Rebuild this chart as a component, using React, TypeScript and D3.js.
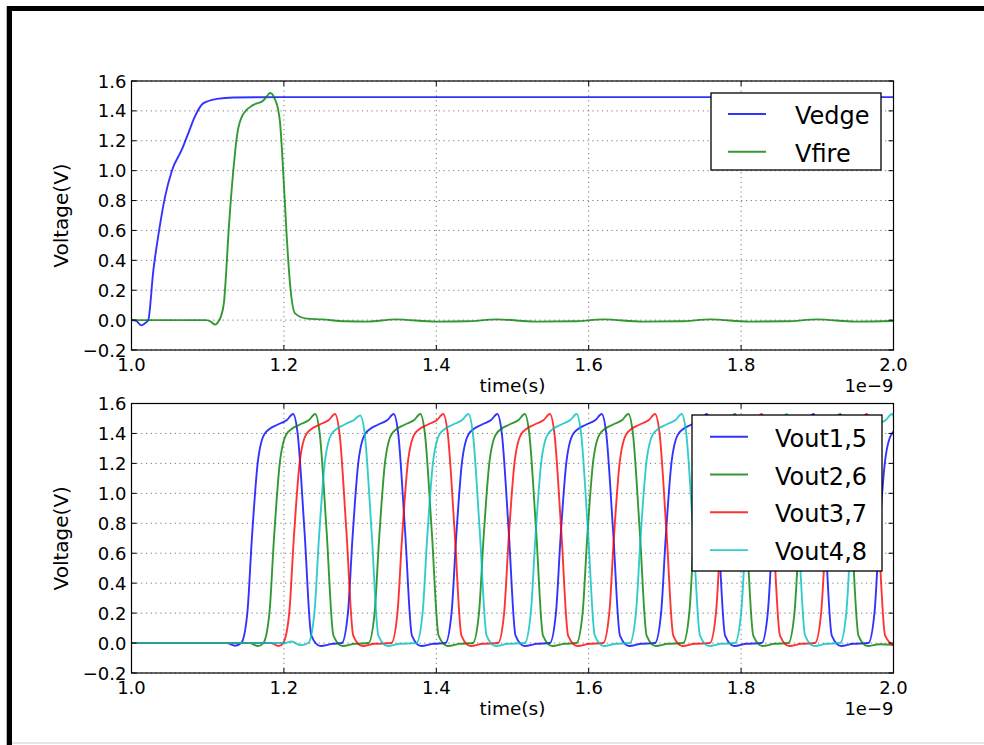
import React from "react";
import * as d3 from "d3";

// ---------- data (time in ns, voltage in V) ----------
const timeTicks = [1.0, 1.2, 1.4, 1.6, 1.8, 2.0];
const voltTicks = [-0.2, 0.0, 0.2, 0.4, 0.6, 0.8, 1.0, 1.2, 1.4, 1.6];

const vedge: [number, number][] = [
  [1.0, 0], [1.006, -0.005], [1.013, -0.035], [1.018, -0.02], [1.022, 0.0], [1.0286, 0.33],
  [1.035, 0.56], [1.044, 0.825], [1.053, 1.0], [1.066, 1.14], [1.0745, 1.25], [1.083, 1.36],
  [1.094, 1.45], [1.112, 1.48], [1.134, 1.49], [1.2, 1.492], [2.0, 1.492],
];

const vfire: [number, number][] = [
  [1.0, 0], [1.098, 0], [1.104, -0.01], [1.1096, -0.03], [1.114, -0.01], [1.117, 0.02],
  [1.1214, 0.12], [1.124, 0.3], [1.127, 0.56], [1.1336, 1.0], [1.1389, 1.25], [1.1468, 1.38],
  [1.16, 1.44], [1.173, 1.47], [1.178, 1.5], [1.1818, 1.52], [1.185, 1.51], [1.188, 1.48],
  [1.192, 1.42], [1.195, 1.32], [1.199, 1.0], [1.2037, 0.56], [1.208, 0.245], [1.2146, 0.045],
  [1.23, 0.01], [1.25, 0.005], [1.28, -0.008], [1.31, -0.01], [1.346, 0.005], [1.4, -0.01],
  [1.44, -0.008], [1.48, 0.005], [1.53, -0.01], [1.58, -0.008], [1.62, 0.005], [1.67, -0.01],
  [1.72, -0.008], [1.76, 0.005], [1.81, -0.01], [1.86, -0.008], [1.9, 0.005], [1.95, -0.01],
  [2.0, -0.006],
];

const vout15: [number, number][] = [
  [1.0, 0], [1.125, 0], [1.136, -0.018],
  [1.144, 0], [1.152, 0.2], [1.158, 0.7], [1.166, 1.22], [1.175, 1.4], [1.192, 1.46], [1.204, 1.49], [1.212, 1.53], [1.218, 1.4], [1.227, 0.75], [1.236, 0.05], [1.248, -0.02], [1.264, -0.005],
  [1.276, 0], [1.284, 0.2], [1.29, 0.7], [1.298, 1.22], [1.307, 1.4], [1.324, 1.46], [1.336, 1.49], [1.344, 1.53], [1.35, 1.4], [1.359, 0.75], [1.368, 0.05], [1.38, -0.02], [1.396, -0.005],
  [1.412, 0], [1.42, 0.2], [1.426, 0.7], [1.434, 1.22], [1.443, 1.4], [1.46, 1.46], [1.472, 1.49], [1.48, 1.53], [1.486, 1.4], [1.495, 0.75], [1.504, 0.05], [1.516, -0.02], [1.532, -0.005],
  [1.549, 0], [1.557, 0.2], [1.563, 0.7], [1.571, 1.22], [1.58, 1.4], [1.597, 1.46], [1.609, 1.49], [1.617, 1.53], [1.623, 1.4], [1.632, 0.75], [1.641, 0.05], [1.653, -0.02], [1.669, -0.005],
  [1.687, 0], [1.695, 0.2], [1.701, 0.7], [1.709, 1.22], [1.718, 1.4], [1.735, 1.46], [1.747, 1.49], [1.755, 1.53], [1.761, 1.4], [1.77, 0.75], [1.779, 0.05], [1.791, -0.02], [1.807, -0.005],
  [1.827, 0], [1.835, 0.2], [1.841, 0.7], [1.849, 1.22], [1.858, 1.4], [1.875, 1.46], [1.887, 1.49], [1.895, 1.53], [1.901, 1.4], [1.91, 0.75], [1.919, 0.05], [1.931, -0.02], [1.947, -0.005],
  [1.967, 0], [1.975, 0.2], [1.981, 0.7], [1.989, 1.22], [1.998, 1.4], [2.015, 1.46],
];

const vout26: [number, number][] = [
  [1.0, 0], [1.155, 0], [1.166, -0.02],
  [1.173, 0], [1.181, 0.2], [1.187, 0.7], [1.195, 1.22], [1.204, 1.4], [1.221, 1.46], [1.233, 1.49], [1.241, 1.53], [1.247, 1.4], [1.256, 0.75], [1.265, 0.05], [1.277, -0.02], [1.293, -0.005],
  [1.311, 0], [1.319, 0.2], [1.325, 0.7], [1.333, 1.22], [1.342, 1.4], [1.359, 1.46], [1.371, 1.49], [1.379, 1.53], [1.385, 1.4], [1.394, 0.75], [1.403, 0.05], [1.415, -0.02], [1.431, -0.005],
  [1.448, 0], [1.456, 0.2], [1.462, 0.7], [1.47, 1.22], [1.479, 1.4], [1.496, 1.46], [1.508, 1.49], [1.516, 1.53], [1.522, 1.4], [1.531, 0.75], [1.54, 0.05], [1.552, -0.02], [1.568, -0.005],
  [1.584, 0], [1.592, 0.2], [1.598, 0.7], [1.606, 1.22], [1.615, 1.4], [1.632, 1.46], [1.644, 1.49], [1.652, 1.53], [1.658, 1.4], [1.667, 0.75], [1.676, 0.05], [1.688, -0.02], [1.704, -0.005],
  [1.724, 0], [1.732, 0.2], [1.738, 0.7], [1.746, 1.22], [1.755, 1.4], [1.772, 1.46], [1.784, 1.49], [1.792, 1.53], [1.798, 1.4], [1.807, 0.75], [1.816, 0.05], [1.828, -0.02], [1.844, -0.005],
  [1.862, 0], [1.87, 0.2], [1.876, 0.7], [1.884, 1.22], [1.893, 1.4], [1.91, 1.46], [1.922, 1.49], [1.93, 1.53], [1.936, 1.4], [1.945, 0.75], [1.954, 0.05], [1.966, -0.02], [1.982, -0.008], [2.0, -0.012],
];

const vout37: [number, number][] = [
  [1.0, 0], [1.183, 0], [1.193, -0.02],
  [1.199, 0], [1.207, 0.2], [1.213, 0.7], [1.221, 1.22], [1.23, 1.4], [1.247, 1.46], [1.259, 1.49], [1.267, 1.53], [1.273, 1.4], [1.282, 0.75], [1.291, 0.05], [1.303, -0.02], [1.319, -0.005],
  [1.341, 0], [1.349, 0.2], [1.355, 0.7], [1.363, 1.22], [1.372, 1.4], [1.389, 1.46], [1.401, 1.49], [1.409, 1.53], [1.415, 1.4], [1.424, 0.75], [1.433, 0.05], [1.445, -0.02], [1.461, -0.005],
  [1.481, 0], [1.489, 0.2], [1.495, 0.7], [1.503, 1.22], [1.512, 1.4], [1.529, 1.46], [1.541, 1.49], [1.549, 1.53], [1.555, 1.4], [1.564, 0.75], [1.573, 0.05], [1.585, -0.02], [1.601, -0.005],
  [1.619, 0], [1.627, 0.2], [1.633, 0.7], [1.641, 1.22], [1.65, 1.4], [1.667, 1.46], [1.679, 1.49], [1.687, 1.53], [1.693, 1.4], [1.702, 0.75], [1.711, 0.05], [1.723, -0.02], [1.739, -0.005],
  [1.759, 0], [1.767, 0.2], [1.773, 0.7], [1.781, 1.22], [1.79, 1.4], [1.807, 1.46], [1.819, 1.49], [1.827, 1.53], [1.833, 1.4], [1.842, 0.75], [1.851, 0.05], [1.863, -0.02], [1.879, -0.005],
  [1.897, 0], [1.905, 0.2], [1.911, 0.7], [1.919, 1.22], [1.928, 1.4], [1.945, 1.46], [1.957, 1.49], [1.965, 1.53], [1.971, 1.4], [1.98, 0.75], [1.989, 0.05], [2.001, -0.02],
];

const vout48: [number, number][] = [
  [1.0, 0], [1.2, 0], [1.21, 0.01], [1.222, -0.015],
  [1.232, 0], [1.24, 0.2], [1.246, 0.7], [1.254, 1.22], [1.263, 1.4], [1.28, 1.46], [1.292, 1.49], [1.3, 1.52], [1.306, 1.4], [1.315, 0.75], [1.324, 0.05], [1.336, -0.02], [1.352, -0.005],
  [1.374, 0], [1.382, 0.2], [1.388, 0.7], [1.396, 1.22], [1.405, 1.4], [1.422, 1.46], [1.434, 1.49], [1.442, 1.53], [1.448, 1.4], [1.457, 0.75], [1.466, 0.05], [1.478, -0.02], [1.494, -0.005],
  [1.516, 0], [1.524, 0.2], [1.53, 0.7], [1.538, 1.22], [1.547, 1.4], [1.564, 1.46], [1.576, 1.49], [1.584, 1.53], [1.59, 1.4], [1.599, 0.75], [1.608, 0.05], [1.62, -0.02], [1.636, -0.005],
  [1.654, 0], [1.662, 0.2], [1.668, 0.7], [1.676, 1.22], [1.685, 1.4], [1.702, 1.46], [1.714, 1.49], [1.722, 1.53], [1.728, 1.4], [1.737, 0.75], [1.746, 0.05], [1.758, -0.02], [1.774, -0.005],
  [1.792, 0], [1.8, 0.2], [1.806, 0.7], [1.814, 1.22], [1.823, 1.4], [1.84, 1.46], [1.852, 1.49], [1.86, 1.53], [1.866, 1.4], [1.875, 0.75], [1.884, 0.05], [1.896, -0.02], [1.912, -0.005],
  [1.93, 0], [1.938, 0.2], [1.944, 0.7], [1.952, 1.22], [1.961, 1.4], [1.978, 1.46], [1.99, 1.49], [1.998, 1.53], [2.004, 1.4],
];

const topNames = ["Vedge", "Vfire"];
const bottomNames = ["Vout1,5", "Vout2,6", "Vout3,7", "Vout4,8"];
const colors = ["#0000ff", "#008000", "#ff0000", "#00bfbf"];

// ---------- layout ----------
const W = 984;
const H = 745;
const X0 = 131.5;
const X1 = 893.5;
const FONT = "'DejaVu Sans', Verdana, sans-serif";

const fmt = (v: number) => d3.format(".1f")(v).replace("-", "\u2212");

type Legend = { x: number; y: number; w: number; h: number; firstY: number; step: number; lx0: number; lx1: number; tx: number };

function Panel(props: {
  id: string;
  yTop: number;
  yBot: number;
  series: [number, number][][];
  names: string[];
  legend: Legend;
}) {
  const { id, yTop, yBot, series, names, legend } = props;
  const x = d3.scaleLinear().domain([1.0, 2.0]).range([X0, X1]);
  const y = d3.scaleLinear().domain([-0.2, 1.6]).range([yBot, yTop]);
  const line = d3
    .line<[number, number]>()
    .x((d) => x(d[0]))
    .y((d) => y(d[1]))
    .curve(d3.curveMonotoneX);
  const midY = (yTop + yBot) / 2;
  const tickLen = 5;
  return (
    <g>
      <defs>
        <clipPath id={id}>
          <rect x={X0} y={yTop} width={X1 - X0} height={yBot - yTop} />
        </clipPath>
      </defs>
      <rect x={X0} y={yTop} width={X1 - X0} height={yBot - yTop} fill="#fff" />
      {/* grid */}
      {timeTicks.map((t) => (
        <line key={"gx" + t} x1={x(t)} x2={x(t)} y1={yTop} y2={yBot} stroke="#555" strokeWidth={0.8} strokeDasharray="1.2,3.6" />
      ))}
      {voltTicks.map((v) => (
        <line key={"gy" + v} x1={X0} x2={X1} y1={y(v)} y2={y(v)} stroke="#555" strokeWidth={0.8} strokeDasharray="1.2,3.6" />
      ))}
      {/* lines */}
      <g clipPath={`url(#${id})`}>
        {series.map((s, i) => (
          <path key={i} d={line(s) || ""} fill="none" stroke={colors[i]} strokeWidth={1.9} strokeOpacity={0.8} strokeLinejoin="round" />
        ))}
      </g>
      {/* ticks */}
      {timeTicks.map((t) => (
        <g key={"tx" + t}>
          <line x1={x(t)} x2={x(t)} y1={yBot} y2={yBot - tickLen} stroke="#000" strokeWidth={1} />
          <line x1={x(t)} x2={x(t)} y1={yTop} y2={yTop + tickLen} stroke="#000" strokeWidth={1} />
          <text x={x(t)} y={yBot + 21} fontSize={18} textAnchor="middle" fontFamily={FONT} fill="#000">
            {fmt(t)}
          </text>
        </g>
      ))}
      {voltTicks.map((v) => (
        <g key={"ty" + v}>
          <line x1={X0} x2={X0 + tickLen} y1={y(v)} y2={y(v)} stroke="#000" strokeWidth={1} />
          <line x1={X1} x2={X1 - tickLen} y1={y(v)} y2={y(v)} stroke="#000" strokeWidth={1} />
          <text x={X0 - 5} y={y(v) + 6.5} fontSize={18} textAnchor="end" fontFamily={FONT} fill="#000">
            {fmt(v)}
          </text>
        </g>
      ))}
      {/* frame */}
      <rect x={X0} y={yTop} width={X1 - X0} height={yBot - yTop} fill="none" stroke="#000" strokeWidth={1.2} />
      {/* labels */}
      <text x={(X0 + X1) / 2} y={yBot + 42} fontSize={18.5} textAnchor="middle" fontFamily={FONT} fill="#000">
        time(s)
      </text>
      <text x={X1} y={yBot + 42} fontSize={18} textAnchor="end" fontFamily={FONT} fill="#000">
        1e{"\u2212"}9
      </text>
      <text
        transform={`translate(68,${midY}) rotate(-90)`}
        fontSize={20}
        textAnchor="middle"
        fontFamily={FONT}
        fill="#000"
      >
        Voltage(V)
      </text>
      {/* legend */}
      <rect x={legend.x} y={legend.y} width={legend.w} height={legend.h} fill="#fff" stroke="#000" strokeWidth={1.3} />
      {names.map((n, i) => {
        const ly = legend.firstY + i * legend.step;
        return (
          <g key={n}>
            <line x1={legend.lx0} x2={legend.lx1} y1={ly} y2={ly} stroke={colors[i]} strokeWidth={1.9} strokeOpacity={0.8} />
            <text x={legend.tx} y={ly + 10} fontSize={24} fontFamily={FONT} fill="#000">
              {n}
            </text>
          </g>
        );
      })}
    </g>
  );
}

export default function App() {
  return (
    <svg
      width={W}
      height={H}
      viewBox={`0 0 ${W} ${H}`}
      style={{ position: "absolute", left: 0, top: 0, background: "#fff" }}
    >
      <rect x={0} y={0} width={W} height={H} fill="#fff" />
      {/* outer frame */}
      <rect x={6} y={6} width={1} height={H - 6} fill="#bbb" />
      <rect x={7} y={6} width={5} height={H - 6} fill="#000" />
      <rect x={7} y={6} width={W - 7} height={5} fill="#000" />
      <rect x={12} y={742} width={W - 12} height={2} fill="#e6e6e6" />
      <Panel
        id="clipTop"
        yTop={81}
        yBot={350}
        series={[vedge, vfire]}
        names={topNames}
        legend={{ x: 711, y: 93, w: 170, h: 77, firstY: 114, step: 37.7, lx0: 728, lx1: 766, tx: 795 }}
      />
      <Panel
        id="clipBot"
        yTop={403.5}
        yBot={673}
        series={[vout15, vout26, vout37, vout48]}
        names={bottomNames}
        legend={{ x: 692, y: 415, w: 190, h: 156, firstY: 436.7, step: 37.8, lx0: 710, lx1: 748, tx: 775 }}
      />
    </svg>
  );
}
